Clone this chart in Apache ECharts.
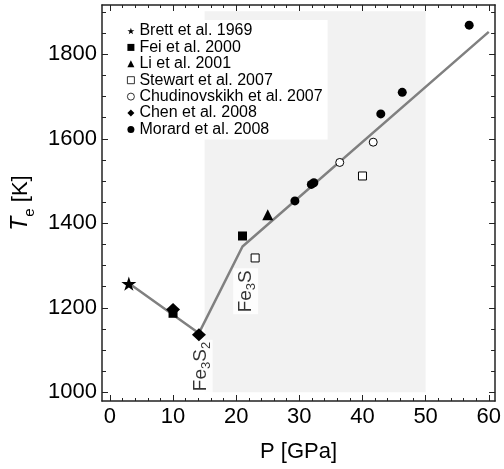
<!DOCTYPE html>
<html><head><meta charset="utf-8">
<script src="https://cdn.jsdelivr.net/npm/echarts@6/dist/echarts.min.js"></script>
<style>html,body{margin:0;padding:0;background:#fff}#c{width:504px;height:469px}</style>
</head><body><div id="c"></div>
<script>
// ---- data ----
const brettP = [3], brettT = [1257];
const feiP = [10, 21], feiT = [1187, 1370];
const liP = [25], liT = [1420];
const stewartP = [23, 40], stewartT = [1318, 1512];
const chudP = [36.4, 41.7], chudT = [1544, 1592];
const chenP = [10, 14.1], chenT = [1196, 1136];
const morardP = [29.3, 31.9, 32.3, 42.9, 46.3, 56.9], morardT = [1453, 1492, 1496, 1659, 1710, 1869];
const fitP = [3, 14.1, 21, 60], fitT = [1258, 1140, 1345, 1853];
const shadeP = [15, 50], shadeT = [1000, 1902];
const labelP = [14.3, 21.5], labelT = [1061, 1239], labelText = ['{t|Fe}{s|3}{t|S}{s|2}', '{t|Fe}{s|3}{t|S}'];
const xMajor = [0, 10, 20, 30, 40, 50, 60];
const xMinor = [0,2,4,6,8,10,12,14,16,18,20,22,24,26,28,30,32,34,36,38,40,42,44,46,48,50,52,54,56,58,60];
const yMajor = [1000, 1200, 1400, 1600, 1800];
const yMinor = [1000,1050,1100,1150,1200,1250,1300,1350,1400,1450,1500,1550,1600,1650,1700,1750,1800,1850,1900];
const names = ['Brett et al. 1969','Fei et al. 2000','Li et al. 2001','Stewart et al. 2007','Chudinovskikh et al. 2007','Chen et al. 2008','Morard et al. 2008'];

const FF = 'Liberation Sans';
const AX = '#222';
const STAR = 'path://M100,0 L122.45,69.1 L195.1,69.1 L136.3,111.8 L158.8,180.9 L100,138.2 L41.2,180.9 L63.7,111.8 L4.9,69.1 L77.55,69.1 Z';
const zip = (a, b) => a.map((v, i) => [v, b[i]]);
const XMIN = -1.25, XMAX = 61, YMIN = 979.4, YMAX = 1916.7;

function xAx(pos, showLine, showLabel, len, vals) {
  return {
    type: 'value', position: pos, min: XMIN, max: XMAX,
    axisLine: { show: showLine, onZero: false, lineStyle: { color: AX, width: 1.5 } },
    axisTick: { show: true, inside: true, length: len, customValues: vals, lineStyle: { color: AX, width: 1 } },
    axisLabel: { show: showLabel, customValues: xMajor, formatter: v => String(v), fontSize: 22, color: '#000', fontFamily: FF, margin: 5 },
    splitLine: { show: false }
  };
}
function yAx(pos, showLine, showLabel, len, vals) {
  return {
    type: 'value', position: pos, min: YMIN, max: YMAX,
    axisLine: { show: showLine, onZero: false, lineStyle: { color: AX, width: 1.5 } },
    axisTick: { show: true, inside: true, length: len, customValues: vals, lineStyle: { color: AX, width: 1 } },
    axisLabel: { show: showLabel, customValues: yMajor, formatter: v => String(v), fontSize: 22, color: '#000', fontFamily: FF, margin: 5 },
    splitLine: { show: false }
  };
}
const xAxes = [
  xAx('bottom', true, true, 6, xMajor),
  xAx('bottom', false, false, 3, xMinor),
  xAx('top', true, false, 6, xMajor),
  xAx('top', false, false, 3, xMinor)
];
Object.assign(xAxes[0], { name: 'P [GPa]', nameLocation: 'middle', nameGap: 40,
  nameTextStyle: { fontSize: 22, color: '#000', fontFamily: FF } });
const yAxes = [
  yAx('left', true, true, 6, yMajor),
  yAx('left', false, false, 4, yMinor),
  yAx('right', true, false, 6, yMajor),
  yAx('right', false, false, 4, yMinor)
];
Object.assign(yAxes[0], { name: '{i|T}{s|e}{n| [K]}', nameLocation: 'middle', nameGap: 60,
  nameTextStyle: { fontSize: 22, color: '#000', fontFamily: FF,
    rich: { i: { fontSize: 23, fontStyle: 'italic', fontFamily: FF, color: '#000', lineHeight: 26 },
            s: { fontSize: 15, fontFamily: FF, color: '#000', verticalAlign: 'bottom', lineHeight: 33 },
            n: { fontSize: 22, fontFamily: FF, color: '#000', lineHeight: 26 } } } });

function sc(name, P, T, symbol, size, fill) {
  return { name, type: 'scatter', data: zip(P, T), symbol, symbolSize: size, symbolKeepAspect: true, z: 5,
    itemStyle: fill ? { color: '#000', opacity: 1 } : { color: '#fff', borderColor: '#000', borderWidth: 1, opacity: 1 } };
}

const option = {
  animation: false,
  backgroundColor: '#fff',
  grid: { left: 102, right: 5, top: 5, bottom: 68, containLabel: false },
  xAxis: xAxes,
  yAxis: yAxes,
  legend: {
    data: [
      { name: names[0], icon: STAR }, { name: names[1], icon: 'rect' }, { name: names[2], icon: 'triangle' },
      { name: names[3], icon: 'rect', itemStyle: { borderWidth: 0.8 } },
      { name: names[4], icon: 'circle', itemStyle: { borderWidth: 0.8 } },
      { name: names[5], icon: 'diamond' },
      { name: names[6], icon: 'circle' }
    ],
    orient: 'vertical', left: 117, top: 20, padding: [3, 5, 2, 10],
    backgroundColor: '#fff', itemWidth: 7, itemHeight: 7, itemGap: 0.4,
    textStyle: { fontSize: 16, fontFamily: FF, color: '#000', lineHeight: 16 },
    selectedMode: false
  },
  series: [
    { name: 'shade', type: 'line', data: [], z: 0, silent: true,
      markArea: { silent: true, itemStyle: { color: '#f2f2f2' },
        data: [[{ coord: [shadeP[0], shadeT[0]] }, { coord: [shadeP[1], shadeT[1]] }]] } },
    { name: 'fit', type: 'line', data: zip(fitP, fitT), symbol: 'none', z: 3,
      lineStyle: { color: '#808080', width: 2.5 } },
    sc(names[0], brettP, brettT, STAR, 15, true),
    sc(names[1], feiP, feiT, 'rect', 9, true),
    sc(names[2], liP, liT, 'triangle', 11, true),
    sc(names[3], stewartP, stewartT, 'rect', 8, false),
    sc(names[4], chudP, chudT, 'circle', 8, false),
    sc(names[5], chenP, chenT, 'diamond', [14, 13], true),
    sc(names[6], morardP, morardT, 'circle', 9, true),
    { name: 'phase', type: 'scatter', symbolSize: 0, z: 4,
      data: labelP.map((p, i) => ({ value: [p, labelT[i]], label: { formatter: labelText[i] } })),
      label: { show: true, position: 'inside', rotate: 90, backgroundColor: '#fff', padding: [1, 2, 0, 2],
        color: '#000', fontFamily: FF,
        rich: { t: { fontSize: 19, fontFamily: FF, color: '#000', lineHeight: 22 },
                s: { fontSize: 13, fontFamily: FF, color: '#000', verticalAlign: 'bottom', lineHeight: 24 } } } }
  ]
};
echarts.init(document.getElementById('c'), null, { renderer: 'canvas' }).setOption(option);
</script></body></html>
